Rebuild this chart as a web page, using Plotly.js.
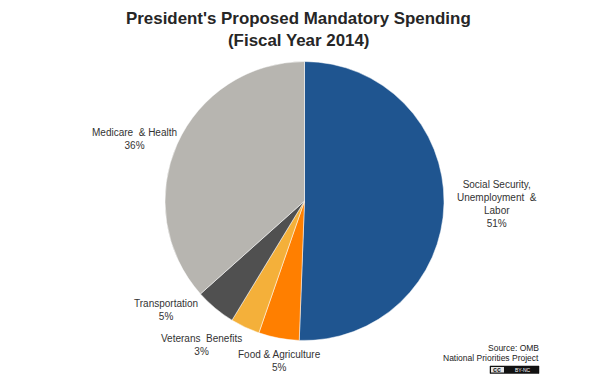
<!DOCTYPE html>
<html><head><meta charset="utf-8"><script src="https://cdn.plot.ly/plotly-3.0.1.min.js"></script>
<style>html,body{margin:0;padding:0;background:#fff}</style></head><body><div id="c" style="width:596px;height:381px"></div>
<script>
const categories=["Social Security, Unemployment & Labor","Food & Agriculture","Veterans Benefits","Transportation","Medicare & Health"];
const values=[50.6,4.7,3.4,4.7,36.6];
const colors=["#1F5590","#FF7F00","#F4B03A","#505050","#B7B5B0"];
const labelTexts=["Social Security,<br>Unemployment  &<br>Labor<br>51%","Medicare  & Health<br>36%","Transportation<br>5%","Veterans  Benefits<br>3%","Food & Agriculture<br>5%"];
const labelX=[497,134,166,201,279];
const labelY=[204,139,310,345,361];
const titleLines=["<b>President's Proposed Mandatory Spending</b>","<b>(Fiscal Year 2014)</b>"];
const titleY=[19,40];
const sourceLines=["Source: OMB","National Priorities Project"];
const sourceY=[347.5,357.5];
const f={family:"Arial, Liberation Sans, sans-serif",size:10,color:"#333"};
const P=(x,y)=>({x:x/596,y:1-y/381,xref:"paper",yref:"paper",showarrow:false});
const annotations=labelTexts.map((t,i)=>Object.assign(P(labelX[i],labelY[i]),{text:t,font:f,xanchor:"center",yanchor:"middle",align:"center"}));
titleLines.forEach((t,i)=>annotations.push(Object.assign(P(298,titleY[i]),{text:t,font:{family:f.family,size:16.9,color:"#262626"},xanchor:"center",yanchor:"middle"})));
sourceLines.forEach((t,i)=>annotations.push(Object.assign(P(541,sourceY[i]),{text:t,font:{family:f.family,size:8.5,color:"#222"},xanchor:"right",yanchor:"middle"})));
annotations.push(Object.assign(P(522,369.5),{text:"BY-NC",font:{family:f.family,size:5,color:"#fff"},xanchor:"center",yanchor:"middle"}));
annotations.push(Object.assign(P(497,369.5),{text:"<b>cc</b>",font:{family:f.family,size:7,color:"#222"},xanchor:"center",yanchor:"middle"}));
const shapes=[
{type:"rect",xref:"paper",yref:"paper",x0:490/596,x1:539/596,y0:1-373.5/381,y1:1-366/381,fillcolor:"#111",line:{color:"#111",width:0.5}},
{type:"rect",xref:"paper",yref:"paper",x0:491/596,x1:504/596,y0:1-372.5/381,y1:1-367/381,fillcolor:"#e4e4e4",line:{width:0}}];
Plotly.newPlot("c",[{type:"pie",labels:categories,values:values,sort:false,direction:"clockwise",rotation:0,textinfo:"none",hoverinfo:"label+percent",marker:{colors:colors,line:{color:"#fff",width:0.5}},domain:{x:[165/596,444/596],y:[1-341/381,1-61/381]}}],
{width:596,height:381,margin:{l:0,r:0,t:0,b:0},showlegend:false,paper_bgcolor:"#fff",annotations:annotations,shapes:shapes},{displayModeBar:false});
</script></body></html>
